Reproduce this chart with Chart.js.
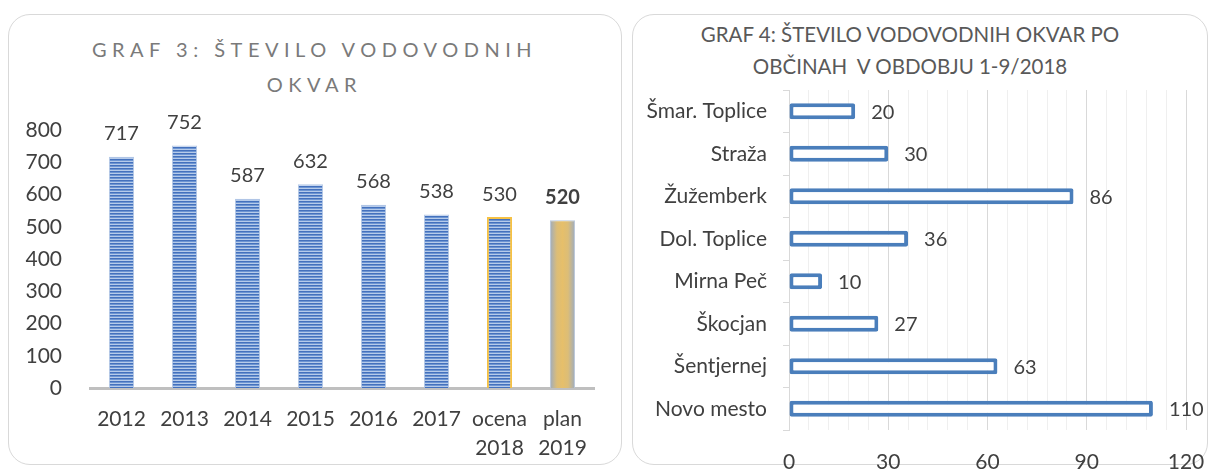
<!DOCTYPE html>
<html>
<head>
<meta charset="utf-8">
<script src="https://cdn.jsdelivr.net/npm/chart.js@4.4.1/dist/chart.umd.min.js"></script>
<style>
body { margin:0; width:1210px; height:470px; background:#fff; position:relative; overflow:hidden; font-family: Lato, "Liberation Sans", sans-serif; }
.panel { position:absolute; top:14px; height:451px; border:1px solid #d9d9d9; border-radius:22px; box-sizing:border-box; }
.title { position:absolute; text-align:center; white-space:nowrap; }
#t3 { left:8px; width:613px; top:32px; font-size:20px; letter-spacing:5.5px; padding-left:0; box-sizing:border-box; color:#7a7a7a; line-height:35px; }
#t4 { left:632px; width:556px; top:18px; font-size:20.5px; color:#595959; line-height:32px; }
.box { position:absolute; top:0; }
</style>
</head>
<body>
<div class="panel" style="left:8px;width:614px"></div>
<div class="panel" style="left:632px;width:576px"></div>
<div class="title" id="t3">GRAF 3: ŠTEVILO VODOVODNIH<br>OKVAR</div>
<div class="title" id="t4">GRAF 4: ŠTEVILO VODOVODNIH OKVAR PO<br>OBČINAH&nbsp; V OBDOBJU 1-9/2018</div>
<div class="box" style="left:0;width:625px;height:470px"><canvas id="graf3" width="625" height="470"></canvas></div>
<div class="box" style="left:632px;width:578px;height:470px"><canvas id="graf4" width="578" height="470"></canvas></div>
<script>
// graf 3 - okvare po letih
let years = ["2012", "2013", "2014", "2015", "2016", "2017", ["ocena", "2018"], ["plan", "2019"]];
let failures = [717, 752, 587, 632, 568, 538, 530, 520];
let yearTicks = [0, 100, 200, 300, 400, 500, 600, 700, 800];

// graf 4 - okvare po obcinah 1-9/2018
let municipalities = ["Šmar. Toplice", "Straža", "Žužemberk", "Dol. Toplice", "Mirna Peč", "Škocjan", "Šentjernej", "Novo mesto"];
let failuresByMunicipality = [20, 30, 86, 36, 10, 27, 63, 110];
let countTicks = [0, 30, 60, 90, 120];

Chart.defaults.font.family = "Lato, 'Liberation Sans', sans-serif";
Chart.defaults.color = "#404040";

/* striped fill for the blue bars */
function stripes() {
    let c = document.createElement("canvas");
    c.width = 4; c.height = 3;
    let g = c.getContext("2d");
    g.fillStyle = "#4471bd"; g.fillRect(0, 0, 4, 1);
    g.fillStyle = "#6d95d2"; g.fillRect(0, 1, 4, 1);
    g.fillStyle = "#b6cbea"; g.fillRect(0, 2, 4, 1);
    return g.createPattern(c, "repeat");
}
let blue = stripes();

/* gold fill with greyish edges for the plan bar */
function planFill(ctx) {
    let x = ctx.chart.scales.x;
    if (!x || ctx.dataIndex == null) return "#e3be6c";
    let cx = x.getPixelForValue(ctx.dataIndex);
    let w = (x.width / years.length) * 0.4;
    let g = ctx.chart.ctx.createLinearGradient(cx - w / 2, 0, cx + w / 2, 0);
    g.addColorStop(0, "#9eacbf");
    g.addColorStop(0.28, "#dcbd77");
    g.addColorStop(0.5, "#e6bf6a");
    g.addColorStop(0.72, "#dcbd77");
    g.addColorStop(1, "#9eacbf");
    return g;
}

/* value labels */
function valueLabels(horizontal) {
    return {
        id: "valueLabels",
        afterDatasetsDraw(chart) {
            let ctx = chart.ctx;
            let meta = chart.getDatasetMeta(0);
            let data = chart.data.datasets[0].data;
            ctx.save();
            ctx.fillStyle = "#404040";
            ctx.textBaseline = "middle";
            meta.data.forEach((bar, i) => {
                if (horizontal) {
                    ctx.font = "20px Lato";
                    ctx.textAlign = "left";
                    ctx.fillText(data[i], bar.x + 16, bar.y + 1);
                } else {
                    ctx.font = (i == data.length - 1 ? "bold " : "") + "20px Lato";
                    ctx.textAlign = "center";
                    ctx.fillText(data[i], bar.x, bar.y - 23);
                }
            });
            ctx.restore();
        }
    };
}

new Chart(document.getElementById("graf3"), {
    type: "bar",
    data: {
        labels: years,
        datasets: [{
            data: failures,
            backgroundColor: ctx => ctx.dataIndex == failures.length - 1 ? planFill(ctx) : blue,
            borderColor: ["#b4c8e6", "#b4c8e6", "#b4c8e6", "#b4c8e6", "#b4c8e6", "#b4c8e6", "#f6c143", "#b9c7da"],
            borderWidth: [1, 1, 1, 1, 1, 1, 2, 1],
            barPercentage: 0.4,
            categoryPercentage: 1
        }]
    },
    options: {
        responsive: false,
        animation: false,
        layout: { padding: { top: 130, right: 31, left: 0, bottom: 0 } },
        plugins: { legend: { display: false }, tooltip: { enabled: false } },
        scales: {
            x: {
                grid: { display: false, drawTicks: false },
                border: { display: true, color: "#bfbfbf", width: 3 },
                ticks: { font: { size: 21, lineHeight: 1.42 }, padding: 16, autoSkip: false, maxRotation: 0 },
                afterFit: s => { s.height = 82; s.paddingLeft = 0; s.paddingRight = 0; }
            },
            y: {
                min: 0, max: 800,
                afterBuildTicks: s => { s.ticks = yearTicks.map(v => ({ value: v })); },
                grid: { display: false, drawTicks: false },
                border: { display: false },
                ticks: { font: { size: 21 }, padding: 28 },
                afterFit: s => { s.width = 90; s.paddingTop = 0; s.paddingBottom = 0; }
            }
        }
    },
    plugins: [valueLabels(false)]
});

new Chart(document.getElementById("graf4"), {
    type: "bar",
    data: {
        labels: municipalities,
        datasets: [{
            data: failuresByMunicipality,
            backgroundColor: "#ffffff",
            borderColor: "#4a7ebb",
            borderWidth: 4,
            borderRadius: 2,
            borderSkipped: false,
            barPercentage: 0.376,
            categoryPercentage: 1
        }]
    },
    options: {
        indexAxis: "y",
        responsive: false,
        animation: false,
        layout: { padding: { top: 90, right: 24, left: 0, bottom: 0 } },
        plugins: { legend: { display: false }, tooltip: { enabled: false } },
        scales: {
            x: {
                min: 0, max: 120,
                ticks: {
                    stepSize: 6, autoSkip: false, maxRotation: 0,
                    font: { size: 21 }, padding: 20,
                    callback: v => countTicks.includes(v) ? v : ""
                },
                grid: {
                    drawTicks: false,
                    color: c => c.tick && c.tick.value % 30 == 0 ? "#d9d9d9" : "#efefef"
                },
                border: { display: false },
                afterFit: s => { s.height = 40; s.paddingLeft = 0; s.paddingRight = 0; }
            },
            y: {
                grid: { drawOnChartArea: false, drawTicks: true, tickLength: 6, color: "#d9d9d9" },
                border: { display: true, color: "#d9d9d9" },
                ticks: { font: { size: 21 }, padding: 16 },
                afterFit: s => { s.width = 157; s.paddingTop = 0; s.paddingBottom = 0; }
            }
        }
    },
    plugins: [valueLabels(true)]
});
</script>
</body>
</html>
